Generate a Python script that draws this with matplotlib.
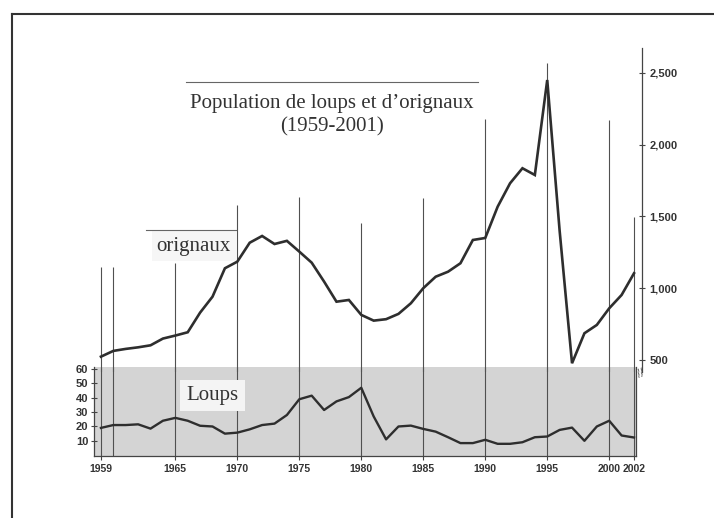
import matplotlib
matplotlib.use("Agg")
import matplotlib.pyplot as plt
from matplotlib.lines import Line2D

# Isle Royale counts
years = list(range(1959, 2003))
moose = [523, 563, 577, 588, 602, 649, 670, 693, 830, 941,
         1139, 1185, 1317, 1364, 1308, 1330, 1255, 1178, 1046, 906,
         918, 814, 774, 784, 821, 895, 1000, 1080, 1115, 1174,
         1336, 1350, 1568, 1731, 1836, 1789, 2451, 1400, 477, 686,
         744, 860, 953, 1104]
wolves = [19, 21, 21, 21.5, 18.5, 24, 26, 24, 20.5, 20,
          15, 15.7, 18, 21, 22, 28, 39, 41.5, 31.5, 37.5,
          40.5, 47, 27, 11, 20, 20.6, 18.3, 16.4, 12.5, 8.4,
          8.4, 10.7, 7.9, 7.9, 9, 12.5, 13, 17.6, 19.2, 10,
          20, 24, 13.7, 12.3]

xtick_years = [1959, 1965, 1970, 1975, 1980, 1985, 1990, 1995, 2000, 2002]
wolf_ticks = [10, 20, 30, 40, 50, 60]
moose_ticks = [500, 1000, 1500, 2000, 2500]
moose_tick_labels = ["500", "1,000", "1,500", "2,000", "2,500"]

# hand drawn year lines and how high they reach (moose scale)
grid_years = [1959, 1960, 1965, 1970, 1975, 1980, 1985, 1990, 1995, 2000, 2002]
grid_tops = [1148, 1148, 1176, 1580, 1636, 1455, 1629, 2179, 2570, 2172, 1497]

W, H = 714, 518
fig = plt.figure(figsize=(W / 100, H / 100), dpi=100)
fig.patch.set_facecolor("white")

def box(l, t, r, b):
    return [l / W, 1 - b / H, (r - l) / W, (b - t) / H]

tickfont = ["Liberation Sans", "DejaVu Sans"]
serif = ["Liberation Serif", "DejaVu Serif"]
ink = "#2e2e2e"
xl = (1958.44, 2002.16)

# page frame
fig.add_artist(Line2D([12 / W, 12 / W], [0, 1 - 14 / H], color="#333333", lw=1.5))
fig.add_artist(Line2D([12 / W, 1], [1 - 14 / H, 1 - 14 / H], color="#333333", lw=1.5))

# wolves panel
axw = fig.add_axes(box(94, 367, 636, 456))
axw.set_facecolor("#d4d4d4")
axw.set_xlim(*xl)
axw.set_ylim(-0.6, 61.5)
axw.vlines(grid_years, -0.6, 61.5, color="#505050", lw=0.8, zorder=1)
axw.plot(years, wolves, color=ink, lw=1.7, zorder=3)
axw.spines["top"].set_visible(False)
for s in ["left", "bottom", "right"]:
    axw.spines[s].set_color("#444444")
    axw.spines[s].set_linewidth(0.9)
axw.set_yticks(wolf_ticks)
axw.set_yticklabels([str(v) for v in wolf_ticks])
axw.set_xticks(xtick_years)
axw.set_xticklabels([str(y) for y in xtick_years])
axw.tick_params(axis="y", direction="inout", length=5, width=0.8, color="#444444",
                pad=1.5, labelsize=8)
axw.tick_params(axis="x", length=3, width=0.8, color="#444444", pad=3, labelsize=7.5)
for lab in axw.get_xticklabels() + axw.get_yticklabels():
    lab.set_family(tickfont)
    lab.set_fontweight("bold")
    lab.set_color("#333333")
axw.text(1968.0, 41.5, "Loups", family=serif, fontsize=15, color="#333333",
         ha="center", va="center", zorder=4,
         bbox=dict(boxstyle="square,pad=0.3", fc="#f4f4f4", ec="none"))

# moose panel
axm = fig.add_axes(box(94, 48, 636, 372))
axm.patch.set_visible(False)
axm.set_xlim(*xl)
axm.set_ylim(416, 2674)
axm.vlines(grid_years, 416, grid_tops, color="#505050", lw=0.8, zorder=1)
axm.plot(years, moose, color=ink, lw=1.9, zorder=3, solid_joinstyle="miter")
for s in ["left", "top", "bottom"]:
    axm.spines[s].set_visible(False)
axm.spines["right"].set_position(("outward", 4))
axm.spines["right"].set_color("#444444")
axm.spines["right"].set_linewidth(0.9)
axm.set_xticks([])
axm.yaxis.tick_right()
axm.set_yticks(moose_ticks)
axm.set_yticklabels(moose_tick_labels)
axm.tick_params(axis="y", direction="inout", length=5, width=0.8, color="#444444",
                pad=3, labelsize=8)
for lab in axm.get_yticklabels():
    lab.set_family(tickfont)
    lab.set_fontweight("bold")
    lab.set_color("#333333")

# axis break mark
axm.text(1.008, -0.005, "//", transform=axm.transAxes, fontsize=7, color="#444444",
         ha="center", va="center", rotation=20)

# labels
axm.text(1966.5, 1294, "orignaux", family=serif, fontsize=15, color="#333333",
         ha="center", va="center", zorder=2.5,
         bbox=dict(boxstyle="square,pad=0.25", fc="#f6f6f6", ec="none"))
axm.plot([1962.6, 1969.9], [1406, 1406], color="#666666", lw=0.8, zorder=5)
axm.text(1977.6, 2205, "Population de loups et d\u2019orignaux\n(1959-2001)",
         family=serif, fontsize=15, color="#333333", ha="center", va="center",
         linespacing=1.25, zorder=4)
axm.plot([1965.9, 1989.4], [2435, 2435], color="#666666", lw=0.8)

fig.savefig("out.png", dpi=100)
